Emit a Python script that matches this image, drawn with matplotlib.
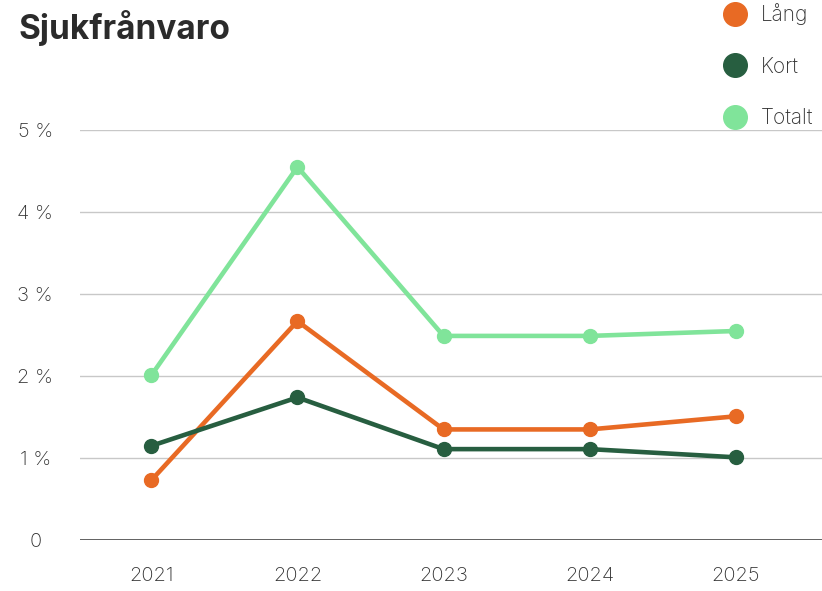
import matplotlib.pyplot as plt
from matplotlib.lines import Line2D

plt.rcParams['font.family'] = ['Inter', 'DejaVu Sans']

years = ['2021', '2022', '2023', '2024', '2025']
lang = [0.73, 2.67, 1.35, 1.35, 1.51]
kort = [1.15, 1.74, 1.11, 1.11, 1.01]
totalt = [2.01, 4.55, 2.49, 2.49, 2.55]

series_names = ['Lång', 'Kort', 'Totalt']
colors = ['#E86A24', '#275E40', '#80E49A']
ytick_vals = [0, 1, 2, 3, 4, 5]
ytick_labels = ['0', '1 %', '2 %', '3 %', '4 %', '5 %']

fig = plt.figure(figsize=(8.22, 5.91), dpi=100)
ax = fig.add_axes([0.097, 0.086, 0.903, 0.694])

x = range(len(years))
# draw Totalt first so the others sit on top
for vals, c in [(totalt, colors[2]), (lang, colors[0]), (kort, colors[1])]:
    ax.plot(x, vals, color=c, lw=3.3, marker='o', ms=10, solid_capstyle='round')

ax.set_xlim(-0.49, 4.59)
ax.set_ylim(0, 5)
ax.set_xticks(list(x))
ax.set_xticklabels(years)
ax.set_yticks(ytick_vals)
ax.set_yticklabels(ytick_labels)
for lab in ax.get_yticklabels() + ax.get_xticklabels():
    lab.set_fontweight('light')
for lab in ax.get_yticklabels():
    lab.set_ha('center')

ax.tick_params(axis='both', length=0, labelsize=14.5, colors='#333333')
ax.tick_params(axis='y', pad=32)
ax.tick_params(axis='x', pad=19)

for v in ytick_vals[1:]:
    ax.axhline(v, color='#c8c8c8', lw=1, zorder=0)
ax.axhline(0, color='#333333', lw=1.8, zorder=1)
for s in ax.spines.values():
    s.set_visible(False)
ax.set_facecolor('none')

fig.text(0.022, 0.953, 'Sjukfrånvaro', fontsize=24, fontweight='bold',
         color='#2b2b2b', va='center', ha='left')

handles = [Line2D([], [], ls='none', marker='o', ms=17, color=c) for c in colors]
leg = fig.legend(handles, series_names, loc='upper right', bbox_to_anchor=(1.012, 1.026),
                 frameon=False, fontsize=15, labelspacing=1.5, handletextpad=0.75,
                 labelcolor='#333333', handlelength=1.0)
for t in leg.get_texts():
    t.set_fontweight('light')

fig.savefig('out.png', dpi=100)
